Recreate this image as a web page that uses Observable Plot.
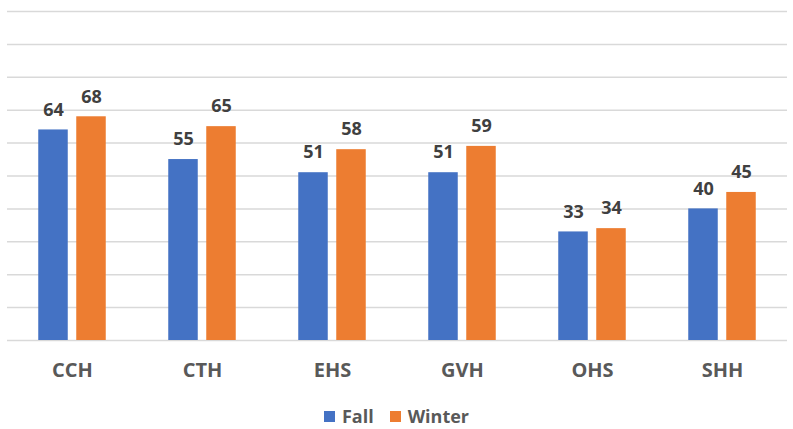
<!DOCTYPE html>
<html><head><meta charset="utf-8">
<script src="https://cdn.jsdelivr.net/npm/d3@7"></script>
<script src="https://cdn.jsdelivr.net/npm/@observablehq/plot@0.6"></script>
<style>
body{margin:0;background:#fff;font-family:"Open Sans",sans-serif}
#legend{display:flex;justify-content:center;align-items:center;height:26px;padding-top:8px;font-weight:bold;font-size:18px;color:#595959;font-family:"Open Sans",sans-serif}
.item{display:flex;align-items:center;margin:0 8px}
.sw{width:11px;height:11px;margin-right:7px;display:inline-block}
</style></head><body>
<div id="chart"></div><div id="legend"></div>
<script>
const categories = ["CCH","CTH","EHS","GVH","OHS","SHH"];
const fall = [64,55,51,51,33,40];
const winter = [68,65,58,59,34,45];
const gridTicks = [0,10,20,30,40,50,60,70,80,90,100];
const series = ["Fall","Winter"];
const colors = ["#4472C4","#ED7D31"];

const data = categories.map((c,i)=>({category:c, Fall:fall[i], Winter:winter[i]}));

const plot = Plot.plot({
  width:793, height:395,
  marginLeft:7, marginRight:6, marginTop:11, marginBottom:55,
  style:{fontFamily:"Open Sans", background:"white", color:"#595959"},
  x:{domain:categories, padding:0, axis:null},
  y:{domain:[0,100], axis:null},
  marks:[
    Plot.ruleY(gridTicks,{stroke:"#d9d9d9",strokeWidth:1.5}),
    Plot.barY(data,{x:"category",y:"Fall",fill:colors[0],insetLeft:31.25,insetRight:69.25}),
    Plot.barY(data,{x:"category",y:"Winter",fill:colors[1],insetLeft:69.25,insetRight:31.25}),
    Plot.text(data,{x:"category",y:"Fall",text:d=>String(d.Fall),dx:-19,dy:-20,fontSize:18,fontWeight:"bold",fill:"#404040"}),
    Plot.text(data,{x:"category",y:"Winter",text:d=>String(d.Winter),dx:19,dy:-20,fontSize:18,fontWeight:"bold",fill:"#404040"}),
    Plot.axisX({tickSize:0,tickPadding:22,fontSize:20,fontWeight:"bold",color:"#595959",label:null})
  ]
});
document.getElementById("chart").appendChild(plot);

const legend = document.getElementById("legend");
series.forEach((s,i)=>{
  const it = document.createElement("span"); it.className="item";
  const sw = document.createElement("span"); sw.className="sw"; sw.style.background=colors[i];
  it.appendChild(sw); it.appendChild(document.createTextNode(s));
  legend.appendChild(it);
});
</script></body></html>
